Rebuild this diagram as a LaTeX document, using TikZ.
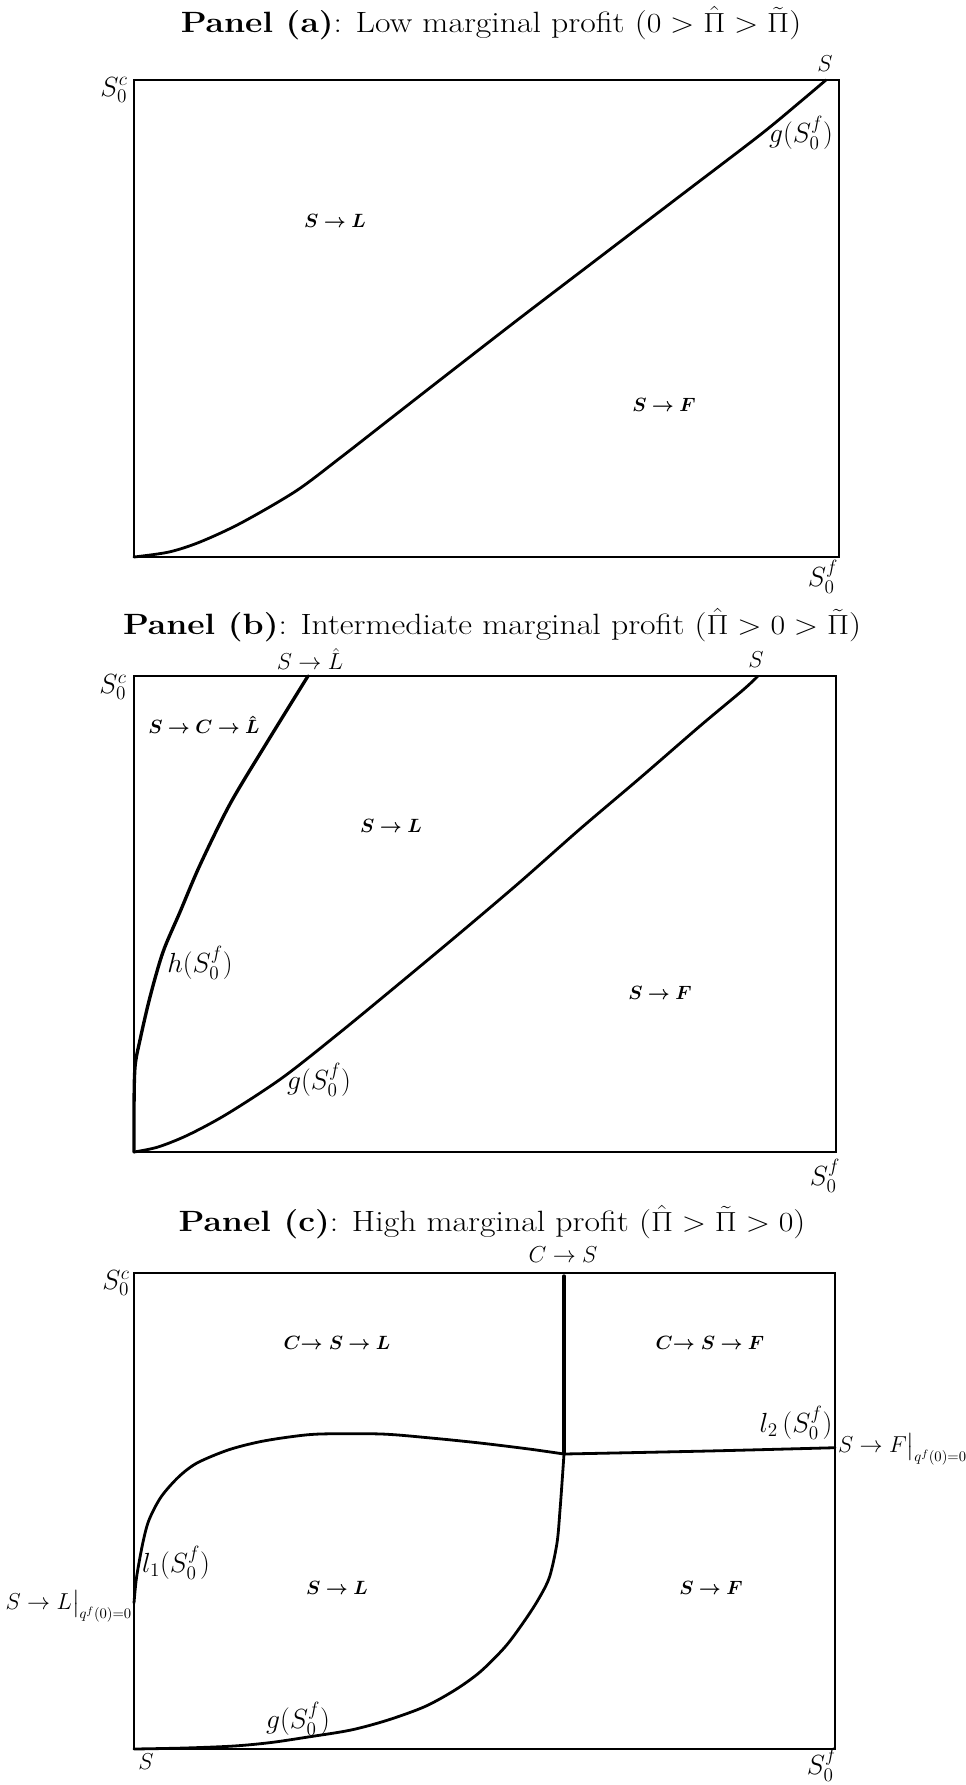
\documentclass[tikz,border=0pt]{standalone}
\usepackage{amsmath}
\usepackage{bm}
\usepackage{graphicx}
\newcommand{\wide}[1]{\scalebox{1.15}[1]{#1}}
\begin{document}
\begin{tikzpicture}[x=0.75pt,y=-0.75pt,
  every node/.style={inner sep=0pt,outer sep=0pt},
  boxline/.style={line width=1.3pt},
  bcurve/.style={line width=2.1pt,line join=round,line cap=round},
  hcurve/.style={line width=2.5pt,line join=round,line cap=round},
  ttl/.style={font=\fontsize{22}{26}\selectfont,anchor=base},
  reg/.style={font=\fontsize{15}{18}\selectfont},
  arr/.style={font=\fontsize{16}{19}\selectfont},
  lbl/.style={font=\fontsize{19.5}{23}\selectfont}]
\useasboundingbox (0,0) rectangle (965,1785);
\fill[white] (0,0) rectangle (965,1785);

% ---------------- Panel (a)
\node[ttl] (ta) at (491,32) {\wide{\textbf{Panel (a)}: Low marginal profit ($0>\hat{\Pi}>\tilde{\Pi}$)}};
\draw[boxline] (134,80) rectangle (839,557);
\node[lbl] (asc) at (114,90) {$S_0^c$};
\node[arr] (as) at (825,64) {$S$};
\node[lbl] (ag) at (801,133) {$g(S_0^f)$};
\node[reg] (asl) at (335,221) {$\bm{S\rightarrow L}$};
\node[reg] (asf) at (664,405) {$\bm{S\rightarrow F}$};
\node[lbl] (asf0) at (823,577) {$S_0^f$};
\draw[bcurve] plot[smooth] coordinates {(134,557) (169,552) (200,542) (241,523) (296,491) (340,458) (390,419) (440,380) (520,318) (600,257) (680,196) (760,135) (800,102) (826,80)};

% ---------------- Panel (b)
\node[ttl] (tb) at (492,634) {\wide{\textbf{Panel (b)}: Intermediate marginal profit ($\hat{\Pi}>0>\tilde{\Pi}$)}};
\draw[boxline] (134,676) rectangle (836,1152);
\node[lbl] (bsc) at (113,687) {$S_0^c$};
\node[arr] (bsl0) at (310,659) {$S\rightarrow\hat{L}$};
\node[arr] (bs) at (756,660) {$S$};
\node[reg] (bscl) at (204,725) {$\bm{S\rightarrow C\rightarrow \hat{L}}$};
\node[reg] (bsl) at (391,826) {$\bm{S\rightarrow L}$};
\node[lbl] (bh) at (200,963) {$h(S_0^f)$};
\node[reg] (bsf) at (660,993) {$\bm{S\rightarrow F}$};
\node[lbl] (bg) at (319,1080) {$g(S_0^f)$};
\node[lbl] (bsf0) at (825,1176) {$S_0^f$};
\draw[hcurve] plot[smooth] coordinates {(134,1152) (134,1110) (135,1067) (140,1040) (150,997) (163,952) (180,912) (200,865) (230,804) (266,744) (308,676)};
\draw[bcurve] plot[smooth] coordinates {(134,1152) (158,1147) (188,1135) (227,1114) (282,1078) (338,1034) (400,983) (460,933) (520,882) (580,829) (640,778) (700,726) (743,690) (758,676)};

% ---------------- Panel (c)
\node[ttl] (tc) at (492,1231) {\wide{\textbf{Panel (c)}: High marginal profit ($\hat{\Pi}>\tilde{\Pi}>0$)}};
\draw[boxline] (134,1273) rectangle (835,1749);
\node[arr] (ccs) at (563,1255) {$C\rightarrow S$};
\node[lbl] (csc) at (116,1283) {$S_0^c$};
\node[reg] (ccsl) at (337,1343) {$\bm{C\mathord{\rightarrow}\ S\rightarrow L}$};
\node[reg] (ccsf) at (710,1343) {$\bm{C\mathord{\rightarrow}\ S\rightarrow F}$};
\node[lbl] (cl2) at (796,1423) {$l_2\,(S_0^f)$};
\node[arr,anchor=west] (csfq) at (838,1449) {$S\rightarrow F\big|_{q^f(0)=0}$};
\node[lbl] (cl1) at (176,1563) {$l_1(S_0^f)$};
\node[arr,anchor=east] (cslq) at (132,1606) {$S\rightarrow L\big|_{q^f(0)=0}$};
\node[reg] (csl) at (337,1588) {$\bm{S\rightarrow L}$};
\node[reg] (csf) at (711,1588) {$\bm{S\rightarrow F}$};
\node[lbl] (cg) at (298,1719) {$g(S_0^f)$};
\node[arr] (cs) at (146,1762) {$S$};
\node[lbl] (csf0) at (822,1765) {$S_0^f$};
\coordinate (J) at (564,1454);
\coordinate (Jtop) at (564,1276);
\draw[hcurve] (Jtop) -- (J);
\draw[bcurve] plot[smooth] coordinates {(564,1454) (708,1451) (835,1447.7)};
\draw[bcurve] plot[smooth] coordinates {(134,1603) (136.6,1577) (142.8,1543) (149,1520) (161,1497) (178.5,1477) (197,1463) (228,1450) (258.5,1442) (289,1437) (320,1434) (381.5,1434) (431,1438) (480,1443) (529,1449) (564,1454)};
\draw[bcurve] plot[smooth] coordinates {(134,1749) (185,1748) (234,1746) (271,1742.5) (308,1737) (351,1730) (388,1720) (425,1706.5) (455,1690) (480,1672) (505,1647) (523,1623) (538,1600) (549.5,1577) (557,1543) (560,1510) (562,1483) (564,1454)};
\end{tikzpicture}
\end{document}
